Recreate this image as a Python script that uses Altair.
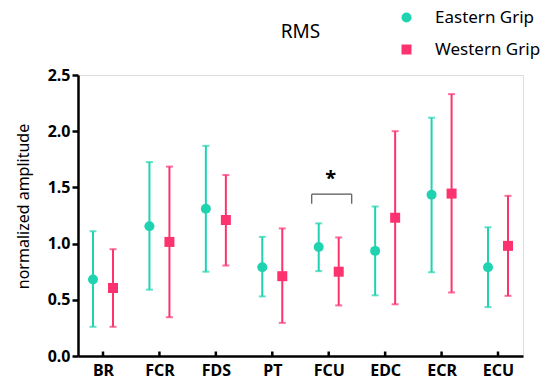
import altair as alt
import pandas as pd

muscles = ["BR", "FCR", "FDS", "PT", "FCU", "EDC", "ECR", "ECU"]
grips = ["Eastern Grip", "Western Grip"]
east_mean = [0.68, 1.155, 1.31, 0.79, 0.97, 0.935, 1.435, 0.79]
east_hi = [1.11, 1.725, 1.87, 1.06, 1.18, 1.33, 2.12, 1.145]
east_lo = [0.26, 0.59, 0.75, 0.53, 0.755, 0.54, 0.745, 0.435]
west_mean = [0.605, 1.015, 1.21, 0.71, 0.75, 1.23, 1.445, 0.98]
west_hi = [0.95, 1.685, 1.61, 1.135, 1.055, 2.0, 2.33, 1.425]
west_lo = [0.26, 0.345, 0.805, 0.295, 0.45, 0.46, 0.565, 0.535]
sig_muscle = ["FCU"]
sig_level = [1.44]
sig_leg = [1.355]
sig_star = [1.575]
y_ticks = [0.0, 0.5, 1.0, 1.5, 2.0, 2.5]

colors = ["#1fd3b0", "#fc336f"]
FONT = "Noto Sans"

rows = []
for i, m in enumerate(muscles):
    rows.append(dict(muscle=m, grip=grips[0], mean=east_mean[i], hi=east_hi[i], lo=east_lo[i]))
    rows.append(dict(muscle=m, grip=grips[1], mean=west_mean[i], hi=west_hi[i], lo=west_lo[i]))
df = pd.DataFrame(rows)

xscale = alt.Scale(type="point", domain=muscles, padding=0.443)
yscale = alt.Scale(domain=[0, 2.5], nice=False)
cscale = alt.Scale(domain=grips, range=colors)
sscale = alt.Scale(domain=grips, range=["circle", "square"])

X = alt.X("muscle:N", scale=xscale, sort=muscles,
          axis=alt.Axis(title=None, labelAngle=0, ticks=False, labelPadding=6,
                        labelFontSize=16, labelFontWeight="bold", labelFont=FONT,
                        labelColor="black", domainColor="black", domainWidth=2.5))
YAX = alt.Axis(title="normalized amplitude", values=y_ticks, format=".1f",
               grid=False, tickSize=6, tickWidth=2.5, tickColor="black",
               domainColor="black", domainWidth=2.5,
               labelFontSize=16, labelFontWeight="bold", labelFont=FONT,
               labelColor="black", labelPadding=2,
               titleFont=FONT, titleFontSize=16, titleFontWeight="normal",
               titleColor="black", titleX=-47, titleY=131, titleBaseline="bottom")

base = alt.Chart(df)
layers = []
for g, off, c in zip(grips, [-10, 10], colors):
    b = base.transform_filter(alt.datum.grip == g)
    layers.append(b.mark_rule(strokeWidth=2, xOffset=off, color=c).encode(
        x=X, y=alt.Y("lo:Q", scale=yscale, axis=YAX), y2="hi:Q"))
    layers.append(b.mark_tick(size=7, thickness=2, xOffset=off, color=c).encode(
        x=X, y=alt.Y("hi:Q", scale=yscale, axis=YAX)))
    layers.append(b.mark_tick(size=7, thickness=2, xOffset=off, color=c).encode(
        x=X, y=alt.Y("lo:Q", scale=yscale, axis=YAX)))

LEG = alt.Legend(title=None, orient="none", legendX=320, legendY=-66,
                 labelFontSize=17, labelFont=FONT, labelColor="black",
                 symbolSize=100, labelOffset=20, rowPadding=14, symbolOpacity=1,
                 symbolStrokeWidth=0)
points = []
for g, off in zip(grips, [-10, 10]):
    b = base.transform_filter(alt.datum.grip == g)
    points.append(b.mark_point(filled=True, opacity=1, size=100, xOffset=off).encode(
        x=X,
        y=alt.Y("mean:Q", scale=yscale, axis=YAX),
        color=alt.Color("grip:N", scale=cscale, legend=LEG),
        shape=alt.Shape("grip:N", scale=sscale, legend=LEG),
    ))

tick_df = pd.DataFrame({"muscle": muscles, "y0": [0.0] * len(muscles), "y1": [0.04] * len(muscles)})
xticks = alt.Chart(tick_df).mark_rule(strokeWidth=2.5, color="black").encode(
    x=X, y=alt.Y("y0:Q", scale=yscale, axis=YAX), y2="y1:Q")

sig_df = pd.DataFrame({"muscle": sig_muscle, "lvl": sig_level, "leg": sig_leg,
                       "star": sig_star, "txt": ["*"]})
sb = alt.Chart(sig_df)
bracket_h = sb.mark_rule(color="#555", strokeWidth=1.2, xOffset=-17, x2Offset=23).encode(
    x=X, x2="muscle:N", y=alt.Y("lvl:Q", scale=yscale, axis=YAX))
bracket_l = sb.mark_rule(color="#555", strokeWidth=1.2, xOffset=-17).encode(
    x=X, y=alt.Y("leg:Q", scale=yscale, axis=YAX), y2="lvl:Q")
bracket_r = sb.mark_rule(color="#555", strokeWidth=1.2, xOffset=23).encode(
    x=X, y=alt.Y("leg:Q", scale=yscale, axis=YAX), y2="lvl:Q")
star = sb.mark_text(fontSize=20, font=FONT, fontWeight="bold", color="black",
                    xOffset=2, baseline="middle").encode(
    x=X, y=alt.Y("star:Q", scale=yscale, axis=YAX), text="txt:N")

chart = alt.layer(*layers, *points, xticks, bracket_h, bracket_l, bracket_r, star).properties(
    width=445, height=281,
    title=alt.Title("RMS", font=FONT, fontSize=19, fontWeight="normal", color="black",
                    anchor="middle", offset=-33),
    autosize=alt.AutoSizeParams(type="none"),
    padding={"left": 70, "top": 67, "right": 19, "bottom": 26},
).configure_view(stroke=None).configure_axis(grid=False).configure(background="white")

chart.save("out.html", embed_options={"renderer": "svg", "actions": False})
